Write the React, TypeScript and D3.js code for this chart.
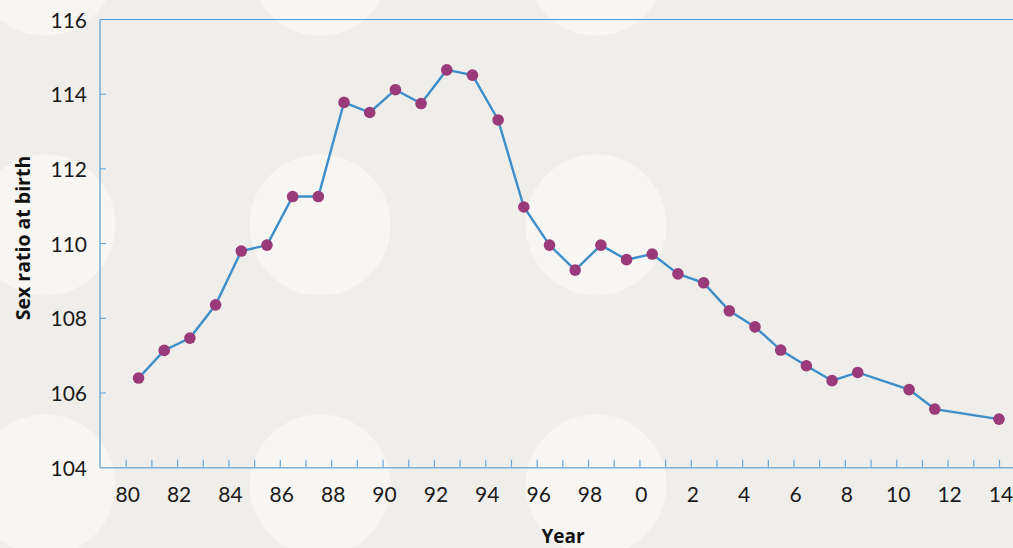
import React, { useEffect, useRef } from "react";
import * as d3 from "d3";

// mid-year positions (year offsets)
const years = [
  1980.5, 1981.5, 1982.5, 1983.5, 1984.5, 1985.5, 1986.5, 1987.5, 1988.5, 1989.5,
  1990.5, 1991.5, 1992.5, 1993.5, 1994.5, 1995.5, 1996.5, 1997.5, 1998.5, 1999.5,
  2000.5, 2001.5, 2002.5, 2003.5, 2004.5, 2005.5, 2006.5, 2007.5, 2008.5, 2010.5,
  2011.5, 2014,
];
const sexRatio = [
  106.4, 107.14, 107.47, 108.36, 109.8, 109.96, 111.26, 111.26, 113.78, 113.51,
  114.12, 113.75, 114.65, 114.51, 113.31, 110.98, 109.96, 109.29, 109.96, 109.57,
  109.72, 109.19, 108.95, 108.2, 107.77, 107.15, 106.73, 106.33, 106.55, 106.09,
  105.57, 105.3,
];
const yTicks = [104, 106, 108, 110, 112, 114, 116];
const xLabelYears = [1980, 1982, 1984, 1986, 1988, 1990, 1992, 1994, 1996, 1998, 2000, 2002, 2004, 2006, 2008, 2010, 2012, 2014];

// decorative background dots
const bgDots = [
  [45, -35], [320, -35], [596, -35],
  [45, 225], [320, 225], [596, 225],
  [45, 485], [320, 485], [596, 485],
];

function App() {
  const ref = useRef(null);

  useEffect(() => {
    d3.select(ref.current).selectAll("*").remove();

    const W = 1013;
    const H = 548;
    const left = 100;
    const top = 19.5;
    const bottom = 467.7;

    const svg = d3
      .select(ref.current)
      .append("svg")
      .attr("width", W)
      .attr("height", H)
      .style("position", "absolute")
      .style("left", 0)
      .style("top", 0)
      .style("font-family", "Lato, 'Open Sans', sans-serif");

    svg.append("rect").attr("width", W).attr("height", H).attr("fill", "#efeeea");

    svg
      .selectAll(".dot-bg")
      .data(bgDots)
      .enter()
      .append("circle")
      .attr("cx", (d) => d[0])
      .attr("cy", (d) => d[1])
      .attr("r", 70.5)
      .attr("fill", "#f7f6f3");

    const x = d3.scaleLinear().domain([1980, 2014]).range([125.7, 999]);
    const y = d3.scaleLinear().domain([104, 116]).range([bottom, top]);

    const axisColor = "#5b9bd0";

    // frame: left and top lines
    svg
      .append("line")
      .attr("x1", left).attr("x2", left)
      .attr("y1", top).attr("y2", bottom)
      .attr("stroke", axisColor).attr("stroke-width", 1.2);
    svg
      .append("line")
      .attr("x1", left).attr("x2", W)
      .attr("y1", top).attr("y2", top)
      .attr("stroke", axisColor).attr("stroke-width", 1.2);

    // y axis: small inner ticks + labels
    const yAxis = svg.append("g").attr("transform", `translate(${left},0)`);
    yAxis
      .selectAll("line")
      .data(yTicks.slice(1, -1))
      .enter()
      .append("line")
      .attr("x1", 0).attr("x2", 6)
      .attr("y1", (d) => y(d)).attr("y2", (d) => y(d))
      .attr("stroke", axisColor).attr("stroke-width", 1);
    yAxis
      .selectAll("text")
      .data(yTicks)
      .enter()
      .append("text")
      .attr("x", -13)
      .attr("y", (d) => y(d) + 8)
      .attr("text-anchor", "end")
      .attr("font-size", 21)
      .attr("fill", "#1a1a1a")
      .text((d) => d);

    // x axis
    const xAxis = svg
      .append("g")
      .attr("transform", `translate(0,${bottom})`)
      .call(
        d3.axisBottom(x)
          .tickValues(d3.range(1980, 2015))
          .tickSize(-8)
          .tickFormat(() => "")
      );
    xAxis.select(".domain").remove();
    xAxis.selectAll("line").attr("stroke", "#6aa6d8").attr("stroke-width", 1.2);
    svg
      .append("line")
      .attr("x1", left).attr("x2", W)
      .attr("y1", bottom).attr("y2", bottom)
      .attr("stroke", "#7fb1dc").attr("stroke-width", 1.6);

    svg
      .append("g")
      .selectAll("text")
      .data(xLabelYears)
      .enter()
      .append("text")
      .attr("x", (d) => x(d) + 2)
      .attr("y", 502)
      .attr("text-anchor", "middle")
      .attr("font-size", 21)
      .attr("fill", "#1a1a1a")
      .text((d) => String(d % 100));

    // line + points
    const pts = years.map((yr, i) => [yr, sexRatio[i]]);
    const line = d3
      .line()
      .x((d) => x(d[0]))
      .y((d) => y(d[1]));
    svg
      .append("path")
      .datum(pts)
      .attr("d", line)
      .attr("fill", "none")
      .attr("stroke", "#3d8ec9")
      .attr("stroke-width", 2.4);
    svg
      .selectAll(".pt")
      .data(pts)
      .enter()
      .append("circle")
      .attr("class", "pt")
      .attr("cx", (d) => x(d[0]))
      .attr("cy", (d) => y(d[1]))
      .attr("r", 5.8)
      .attr("fill", "#9b3a7b");

    // axis titles
    svg
      .append("text")
      .attr("transform", "translate(30,238) rotate(-90)")
      .attr("text-anchor", "middle")
      .attr("font-family", "'Open Sans', sans-serif")
      .attr("font-size", 19.5)
      .attr("font-weight", 700)
      .attr("fill", "#111")
      .text("Sex ratio at birth");
    svg
      .append("text")
      .attr("x", 563)
      .attr("y", 543)
      .attr("text-anchor", "middle")
      .attr("font-family", "'Open Sans', sans-serif")
      .attr("font-size", 19)
      .attr("font-weight", 700)
      .attr("fill", "#111")
      .text("Year");
  }, []);

  return <div ref={ref}></div>;
}

export default App;
